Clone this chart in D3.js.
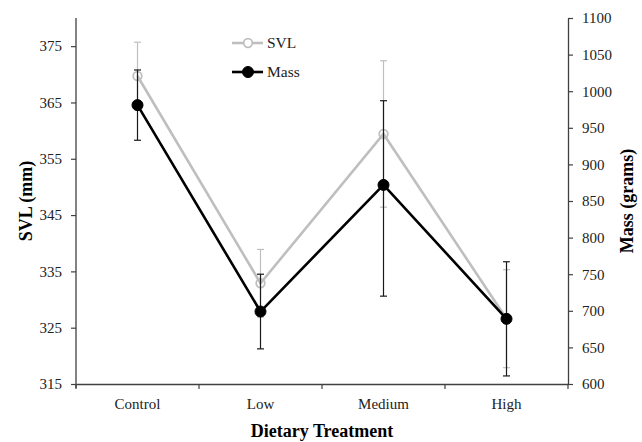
<!DOCTYPE html>
<html>
<head>
<meta charset="utf-8">
<script src="https://cdn.jsdelivr.net/npm/d3@7"></script>
<style>
  body { margin: 0; background: #fff; }
  svg text { font-family: "Liberation Serif", "Times New Roman", serif; }
</style>
</head>
<body>
<div id="the_chart"></div>
<script>
// values
var categories = ["Control", "Low", "Medium", "High"];
var svlMean = [369.7, 332.9, 359.4, 326.6];
var svlErr = [6.0, 6.0, 13.0, 8.7];
var massMean = [981, 699, 872, 689];
var massErrUp = [48, 51, 115, 78];
var massErrDown = [48, 51, 152, 78];
var svlTicks = [315, 325, 335, 345, 355, 365, 375];
var massTicks = [600, 650, 700, 750, 800, 850, 900, 950, 1000, 1050, 1100];

function gen_vis() {
    var w = 642, h = 442;
    var left = 76, right = 568, top = 18, bottom = 384;
    var serif = "'Liberation Serif', 'Times New Roman', serif";

    var svg = d3.select("#the_chart").append("svg")
        .attr("width", w)
        .attr("height", h)
        .attr("font-family", serif);

    var xscale = d3.scaleBand()
        .domain(categories)
        .range([left, right])
        .padding(0);
    var cx = function (c) { return xscale(c) + xscale.bandwidth() / 2; };

    var yLeft = d3.scaleLinear().domain([315, 380]).range([bottom, top]);
    var yRight = d3.scaleLinear().domain([600, 1100]).range([bottom, top]);

    var axisColor = "#404040";

    // left axis
    var gl = svg.append("g")
        .attr("transform", "translate(" + left + ",0)")
        .call(d3.axisLeft(yLeft).tickValues(svlTicks).tickFormat(d3.format("d"))
            .tickSize(5).tickPadding(9).tickSizeOuter(0));
    // right axis
    var gr = svg.append("g")
        .attr("transform", "translate(" + right + ",0)")
        .call(d3.axisRight(yRight).tickValues(massTicks).tickFormat(d3.format("d"))
            .tickSize(5).tickPadding(9).tickSizeOuter(0));
    // bottom axis, labels only
    var gb = svg.append("g")
        .attr("transform", "translate(0," + bottom + ")")
        .call(d3.axisBottom(xscale).tickSize(0).tickPadding(14).tickSizeOuter(0));

    [gl, gr, gb].forEach(function (g) {
        g.attr("font-family", serif).attr("font-size", 15);
        g.select(".domain").attr("stroke", axisColor).attr("stroke-width", 1.3);
        g.selectAll(".tick line").attr("stroke", axisColor).attr("stroke-width", 1.2);
        g.selectAll(".tick text")
            .attr("fill", "#222")
            .attr("font-family", serif)
            .style("font-size", "15px");
    });
    gl.select(".domain").attr("d", "M0," + top + "V" + (bottom + 4));

    // category boundary ticks on the x axis
    var edges = categories.map(function (c) { return xscale(c); }).concat([right]);
    svg.append("g").selectAll("line")
        .data(edges)
        .enter().append("line")
        .attr("x1", function (d) { return d; })
        .attr("x2", function (d) { return d; })
        .attr("y1", bottom)
        .attr("y2", bottom + 5)
        .attr("stroke", axisColor)
        .attr("stroke-width", 1.2);

    // axis titles
    svg.append("text")
        .attr("x", (left + right) / 2)
        .attr("y", 437)
        .attr("text-anchor", "middle")
        .style("font-size", "18px")
        .style("font-weight", "bold")
        .text("Dietary Treatment");

    svg.append("text")
        .attr("transform", "translate(32," + ((top + bottom) / 2) + ") rotate(-90)")
        .attr("text-anchor", "middle")
        .style("font-size", "18px")
        .style("font-weight", "bold")
        .text("SVL (mm)");

    svg.append("text")
        .attr("transform", "translate(633," + ((top + bottom) / 2) + ") rotate(-90)")
        .attr("text-anchor", "middle")
        .style("font-size", "18px")
        .style("font-weight", "bold")
        .text("Mass (grams)");

    function drawSeries(means, errUp, errDown, yscale, lineColor, barColor, filled) {
        var data = categories.map(function (c, i) {
            return { c: c, v: means[i], up: errUp[i], dn: errDown[i] };
        });
        var g = svg.append("g");
        var eb = g.selectAll(".eb").data(data).enter().append("g");
        eb.append("line")
            .attr("x1", function (d) { return cx(d.c); })
            .attr("x2", function (d) { return cx(d.c); })
            .attr("y1", function (d) { return yscale(d.v - d.dn); })
            .attr("y2", function (d) { return yscale(d.v + d.up); })
            .attr("stroke", barColor).attr("stroke-width", 1.2);
        ["up", "dn"].forEach(function (k) {
            var yv = function (d) { return yscale(k === "up" ? d.v + d.up : d.v - d.dn); };
            eb.append("line")
                .attr("x1", function (d) { return cx(d.c) - 3.5; })
                .attr("x2", function (d) { return cx(d.c) + 3.5; })
                .attr("y1", yv)
                .attr("y2", yv)
                .attr("stroke", barColor).attr("stroke-width", 1.2);
        });
        var line = d3.line()
            .x(function (d) { return cx(d.c); })
            .y(function (d) { return yscale(d.v); });
        g.append("path")
            .datum(data)
            .attr("d", line)
            .attr("fill", "none")
            .attr("stroke", lineColor)
            .attr("stroke-width", 2.6);
        g.selectAll("circle").data(data).enter().append("circle")
            .attr("cx", function (d) { return cx(d.c); })
            .attr("cy", function (d) { return yscale(d.v); })
            .attr("r", filled ? 5.5 : 4.3)
            .attr("fill", filled ? lineColor : "#fff")
            .attr("fill-opacity", filled ? 1 : 0)
            .attr("stroke", lineColor)
            .attr("stroke-width", filled ? 1 : 1.8);
    }

    drawSeries(svlMean, svlErr, svlErr, yLeft, "#bfbfbf", "#bfbfbf", false);
    drawSeries(massMean, massErrUp, massErrDown, yRight, "#000", "#1a1a1a", true);

    // legend
    var legend = [
        { name: "SVL", color: "#bfbfbf", filled: false, y: 43 },
        { name: "Mass", color: "#000", filled: true, y: 72 }
    ];
    var lg = svg.append("g").selectAll("g").data(legend).enter().append("g");
    lg.append("line")
        .attr("x1", 232).attr("x2", 263)
        .attr("y1", function (d) { return d.y; })
        .attr("y2", function (d) { return d.y; })
        .attr("stroke", function (d) { return d.color; })
        .attr("stroke-width", 2.6);
    lg.append("circle")
        .attr("cx", 248)
        .attr("cy", function (d) { return d.y; })
        .attr("r", function (d) { return d.filled ? 5.5 : 4.3; })
        .attr("fill", function (d) { return d.filled ? d.color : "#fff"; })
        .attr("stroke", function (d) { return d.color; })
        .attr("stroke-width", function (d) { return d.filled ? 1 : 1.8; });
    lg.append("text")
        .attr("x", 267)
        .attr("y", function (d) { return d.y + 5; })
        .style("font-size", "15.5px")
        .attr("fill", "#222")
        .text(function (d) { return d.name; });
}

gen_vis();
</script>
</body>
</html>
